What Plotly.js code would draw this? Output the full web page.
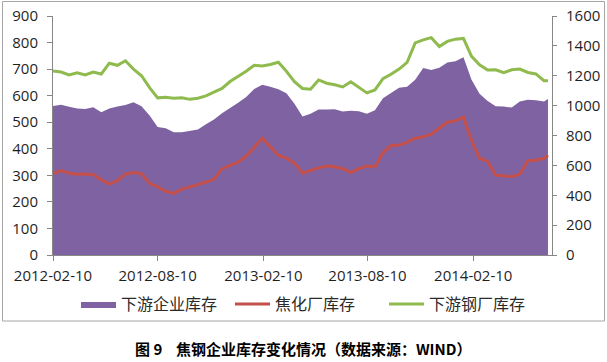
<!DOCTYPE html>
<html>
<head>
<meta charset="utf-8">
<script src="https://cdn.plot.ly/plotly-3.0.1.min.js"></script>
<style>
  html, body { margin: 0; padding: 0; background: #ffffff; }
  #chart { width: 607px; height: 362px; }
</style>
</head>
<body>
<div id="chart"></div>
<script>
// ---- data ----
const dates = [
  "2012-02-10","2012-02-24","2012-03-09","2012-03-23","2012-04-06","2012-04-20","2012-05-04","2012-05-18",
  "2012-06-01","2012-06-15","2012-06-29","2012-07-13","2012-07-27","2012-08-10","2012-08-24","2012-09-07",
  "2012-09-21","2012-10-05","2012-10-19","2012-11-02","2012-11-16","2012-11-30","2012-12-14","2012-12-28",
  "2013-01-11","2013-01-25","2013-02-08","2013-02-22","2013-03-08","2013-03-22","2013-04-05","2013-04-19",
  "2013-05-03","2013-05-17","2013-05-31","2013-06-14","2013-06-28","2013-07-12","2013-07-26","2013-08-09",
  "2013-08-23","2013-09-06","2013-09-20","2013-10-04","2013-10-18","2013-11-01","2013-11-15","2013-11-29",
  "2013-12-13","2013-12-27","2014-01-10","2014-01-24","2014-02-07","2014-02-21","2014-03-07","2014-03-21",
  "2014-04-04","2014-04-18","2014-05-02","2014-05-16","2014-05-30","2014-06-13","2014-06-20"
];
// 下游企业库存 (left axis)
const downstreamEnterprise = [
  561,566,558,552,550,556,538,552,559,565,575,560,525,482,477,462,
  462,468,473,492,510,534,552,573,595,625,641,634,624,609,570,522,
  532,548,548,549,540,543,541,532,545,590,610,630,634,660,704,697,
  705,725,730,745,660,607,580,560,559,555,578,585,583,578,587
];
// 焦化厂库存 (left axis)
const cokingPlant = [
  307,318,308,304,305,303,283,267,280,305,311,306,270,257,240,232,
  248,256,265,275,285,325,336,350,372,405,440,408,375,365,347,308,
  318,328,335,332,325,310,325,335,332,385,412,413,425,440,445,455,
  478,500,505,519,430,365,352,300,298,295,305,355,357,364,376
];
// 下游钢厂库存 (right axis)
const steelMill = [
  1232,1225,1205,1220,1205,1225,1212,1284,1270,1300,1245,1200,1120,1052,1056,1050,
  1052,1042,1050,1065,1090,1115,1161,1195,1230,1270,1266,1275,1290,1230,1160,1115,
  1110,1172,1150,1140,1125,1160,1120,1085,1105,1180,1210,1245,1290,1420,1440,1455,
  1395,1430,1445,1450,1330,1273,1239,1240,1220,1240,1245,1222,1212,1167,1167
];
const seriesNames = ["下游企业库存", "焦化厂库存", "下游钢厂库存"];
const xTickVals = ["2012-02-10","2012-08-10","2013-02-10","2013-08-10","2014-02-10"];
const xTickText = ["2012-02-10","2012-08-10","2013-02-10","2013-08-10","2014-02-10"];
const caption = "图 9    焦钢企业库存变化情况（数据来源：WIND）";

// ---- layout helpers (pixel geometry) ----
const W = 607, H = 362;
const M = { l: 53, r: 55, t: 16, b: 107 };
const pw = W - M.l - M.r, ph = H - M.t - M.b;
const px = x => (x - M.l) / pw;
const py = y => (H - M.b - y) / ph;

const tickFont = { family: "Open Sans, Liberation Sans, sans-serif", size: 15, color: "#1f1f1f" };
const axisLine = "#878787";

const traces = [
  {
    x: dates, y: downstreamEnterprise, name: seriesNames[0], type: "scatter", mode: "lines",
    fill: "tozeroy", fillcolor: "#7E62A2", line: { width: 0, color: "#7E62A2" }, yaxis: "y"
  },
  {
    x: dates, y: cokingPlant, name: seriesNames[1], type: "scatter", mode: "lines",
    line: { width: 3, color: "#C4504C" }, yaxis: "y"
  },
  {
    x: dates, y: steelMill, name: seriesNames[2], type: "scatter", mode: "lines",
    line: { width: 3, color: "#8FBA4E" }, yaxis: "y2"
  }
];

const layout = {
  width: W, height: H,
  margin: M,
  paper_bgcolor: "#ffffff", plot_bgcolor: "#ffffff",
  showlegend: true,
  legend: {
    orientation: "h", x: px(307), xanchor: "center", y: py(304), yanchor: "middle",
    font: { family: "Noto Sans CJK SC, sans-serif", size: 16, color: "#2a2a2a" },
    itemwidth: 35, entrywidth: 104, entrywidthmode: "pixels",
    traceorder: "normal", bgcolor: "rgba(0,0,0,0)"
  },
  xaxis: {
    type: "date", range: ["2012-02-10", "2014-06-27"],
    tickmode: "array", tickvals: xTickVals, ticktext: xTickText,
    showgrid: false, zeroline: false, showline: true, linecolor: axisLine, linewidth: 1,
    ticks: "outside", ticklen: 5, tickcolor: axisLine, tickfont: tickFont, ticklabelstandoff: 2
  },
  yaxis: {
    range: [0, 900], dtick: 100, tick0: 0,
    showgrid: false, zeroline: false, showline: true, linecolor: axisLine, linewidth: 1,
    ticks: "outside", ticklen: 5, tickcolor: axisLine, tickfont: tickFont, ticklabelstandoff: 6
  },
  yaxis2: {
    range: [0, 1600], dtick: 200, tick0: 0, overlaying: "y", side: "right",
    showgrid: false, zeroline: false, showline: true, linecolor: axisLine, linewidth: 1,
    ticks: "outside", ticklen: 4, tickcolor: axisLine, tickfont: tickFont, ticklabelstandoff: 6
  },
  shapes: [
    { type: "rect", xref: "paper", yref: "paper",
      x0: px(2.5), x1: px(604.5), y0: py(321), y1: py(1.5),
      line: { color: "#A6A6A6", width: 1 }, fillcolor: "rgba(0,0,0,0)", layer: "below" }
  ],
  annotations: [
    { text: "<b>" + caption + "</b>", xref: "paper", yref: "paper",
      x: px(303), y: py(348), xanchor: "center", yanchor: "middle", showarrow: false,
      font: { family: "Noto Sans CJK SC, sans-serif", size: 15, color: "#000000" } }
  ]
};

Plotly.newPlot("chart", traces, layout, { staticPlot: true, displayModeBar: false });
</script>
</body>
</html>
